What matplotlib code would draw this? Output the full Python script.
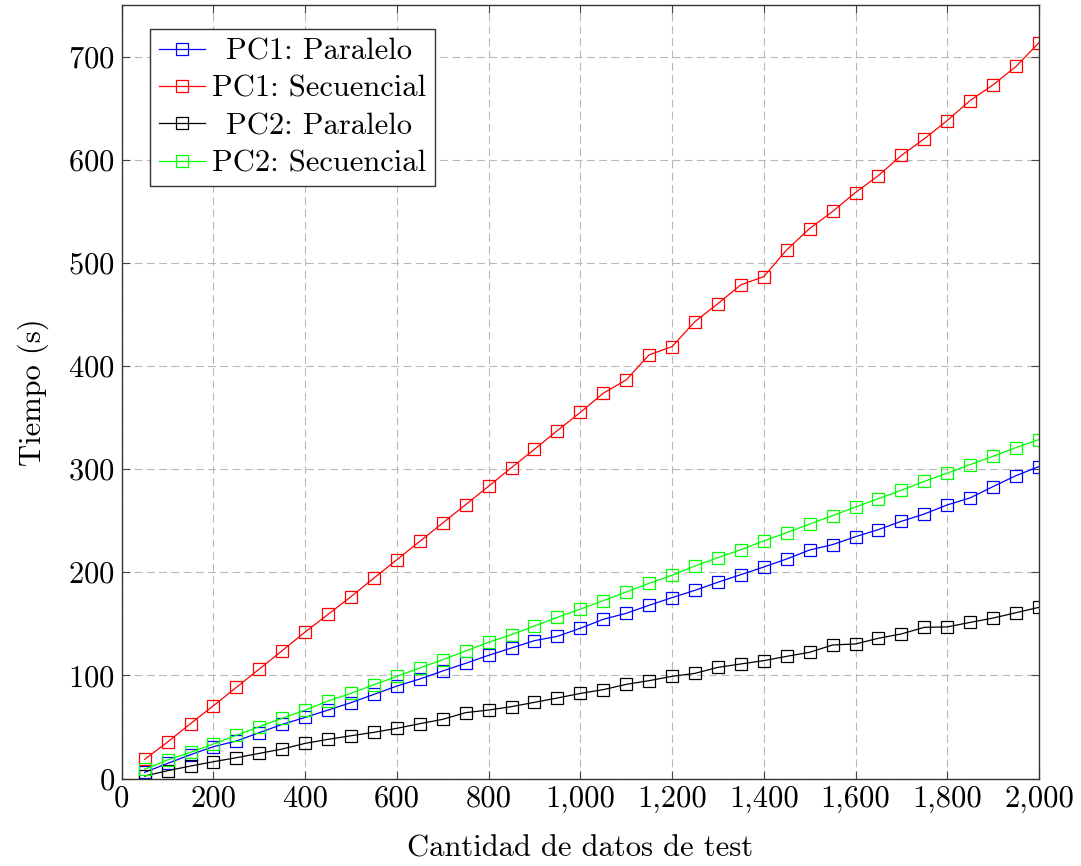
import numpy as np
import matplotlib
matplotlib.use("Agg")
import matplotlib.pyplot as plt
from matplotlib.ticker import FuncFormatter, MultipleLocator
from matplotlib.transforms import Affine2D

plt.rcParams['font.family'] = ['cmr10', 'DejaVu Serif']
plt.rcParams['mathtext.fontset'] = 'cm'
plt.rcParams['axes.formatter.use_mathtext'] = True

# data
n_test = list(range(50, 2001, 50))

pc1_paralelo = [6, 14.7, 23.1, 30.9, 36.4, 44.5, 52.5, 59.3, 66.4, 73.6,
                81.6, 89.7, 96.5, 104.3, 111.7, 119.5, 126.6, 133.7, 137.9, 145.7,
                154.4, 160.2, 168.0, 175.4, 182.5, 190.3, 197.7, 205.1, 212.9, 221.6,
                226.8, 234.5, 241.4, 249.4, 256.5, 265.3, 272.1, 283.1, 293.7, 302.5]
pc1_secuencial = [18.6, 35.4, 53.2, 70.6, 88.4, 106.2, 124.0, 142.1, 159.2, 176.4,
                  194.4, 212.2, 230.0, 247.8, 265.6, 283.4, 301.5, 319.3, 337.4, 355.0,
                  373.6, 386.5, 410.8, 418.8, 443.1, 460.5, 478.7, 486.7, 512.6, 533.3,
                  549.8, 568.2, 584.7, 604.1, 620.3, 638.0, 657.4, 672.6, 690.4, 713.4]
pc2_paralelo = [2.4, 7.6, 12.1, 16.3, 20.2, 24.4, 28.6, 34.1, 38.0, 41.5,
                44.8, 48.7, 53.2, 57.4, 63.9, 66.4, 69.7, 73.9, 78.1, 82.5,
                86.2, 91.3, 94.9, 99.1, 102.0, 107.8, 111.1, 114.3, 118.5, 122.4,
                129.5, 130.5, 136.0, 140.2, 146.6, 147.0, 151.4, 155.6, 160.8, 166.0]
pc2_secuencial = [9, 18.0, 25.4, 33.5, 41.9, 50.3, 58.4, 66.4, 75.2, 82.6,
                  91.0, 99.1, 107.2, 115.3, 123.7, 132.1, 139.5, 147.9, 156.3, 164.3,
                  172.5, 180.9, 189.3, 197.1, 206.1, 214.2, 221.9, 230.4, 238.4, 246.8,
                  254.9, 263.3, 271.4, 279.5, 288.2, 296.0, 304.4, 312.5, 320.9, 328.6]

series = [
    ("PC1: Paralelo", pc1_paralelo, "#0000ff"),
    ("PC1: Secuencial", pc1_secuencial, "#ff0000"),
    ("PC2: Paralelo", pc2_paralelo, "#000000"),
    ("PC2: Secuencial", pc2_secuencial, "#00ff00"),
]

fs = 22

fig = plt.figure(figsize=(10.81, 8.66), dpi=100)
ax = fig.add_axes([0.1126, 0.101, 0.8485, 0.8932])

for label, vals, col in series:
    ax.plot(n_test, vals, color=col, lw=0.9, marker='s', ms=8, mfc='none',
            mec=col, mew=0.9, label=label)

ax.set_xlim(0, 2000)
ax.set_ylim(0, 750)
ax.xaxis.set_major_locator(MultipleLocator(200))
ax.yaxis.set_major_locator(MultipleLocator(100))
ax.xaxis.set_major_formatter(FuncFormatter(lambda v, p: f"{v:,.0f}"))
ax.grid(True, color='#b8b8b8', linestyle=(0, (7, 4)), linewidth=0.8)
ax.tick_params(direction='in', length=6, width=0.8, color='#444444',
               top=True, right=True, labelsize=fs, pad=5)
for s in ax.spines.values():
    s.set_linewidth(1.0)
    s.set_color('#333333')

ax.set_xlabel("Cantidad de datos de test", fontsize=fs, labelpad=16)
ax.set_ylabel("Tiempo (s)", fontsize=fs, labelpad=14)

leg = ax.legend(loc='upper left', bbox_to_anchor=(0.031, 0.969), fontsize=fs,
                frameon=True, fancybox=False, edgecolor='#333333',
                framealpha=1, handlelength=1.5, handletextpad=0.22,
                labelspacing=0.32, borderpad=0.3, borderaxespad=0)
leg.get_frame().set_linewidth(1.0)

# center legend texts like pgfplots
fig.canvas.draw()
texts = leg.get_texts()
widths = [t.get_window_extent().width for t in texts]
wmax = max(widths)
for t, w in zip(texts, widths):
    t.set_transform(t.get_transform() + Affine2D().translate((wmax - w) / 2, 0))

fig.savefig("out.png", dpi=100)
